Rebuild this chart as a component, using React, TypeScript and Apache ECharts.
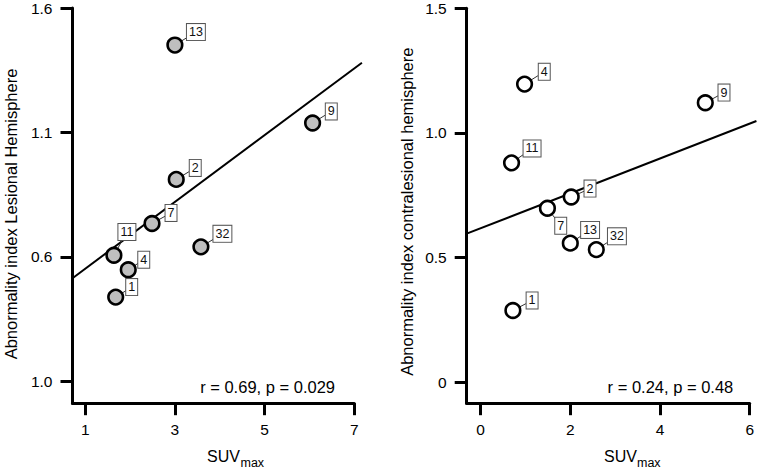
import React, { useEffect, useRef } from "react";
import * as echarts from "echarts";

// ---------- data ----------
const leftIds = ["13", "9", "2", "7", "32", "11", "4", "1"];
const leftSuv = [3.0, 6.07, 3.03, 2.49, 3.58, 1.64, 1.96, 1.68];
const leftAbn = [1.451, 1.138, 0.911, 0.734, 0.64, 0.606, 0.548, 0.438];
const leftFitX = [0.717, 7.17];
const leftFitY = [0.514, 1.38];
const leftXTicks = [1, 3, 5, 7];
const leftYTicks = [0.1, 0.6, 1.1, 1.6];
const leftYTickLabels = ["1.0", "0.6", "1.1", "1.6"];
const leftYName = "Abnormality index Lesional Hemisphere";
const leftStat = "r = 0.69, p = 0.029";

const rightIds = ["4", "9", "11", "2", "7", "13", "32", "1"];
const rightSuv = [0.98, 5.01, 0.69, 2.02, 1.49, 2.0, 2.58, 0.72];
const rightAbn = [1.196, 1.121, 0.88, 0.743, 0.698, 0.558, 0.532, 0.288];
const rightFitX = [-0.31, 6.15];
const rightFitY = [0.596, 1.048];
const rightXTicks = [0, 2, 4, 6];
const rightYTicks = [0, 0.5, 1.0, 1.5];
const rightYTickLabels = ["0", "0.5", "1.0", "1.5"];
const rightYName = "Abnormality index contralesional hemisphere";
const rightStat = "r = 0.24, p = 0.48";

const xNameMain = "SUV";
const xNameSub = "max";

// ---------- label box placement (px offsets from each point) ----------
const leftLabelDx = [21, 18.7, 19, 19, 21.5, 13, 15.5, 16];
const leftLabelDy = [-13, -11.5, -11.5, -10.5, -13, -23.3, -10, -10];
const rightLabelDx = [19.7, 18.7, 20.5, 18.8, 13.3, 19.8, 20.6, 19.2];
const rightLabelDy = [-12.3, -10.2, -14.4, -8.4, 17.5, -13.2, -13.3, -10];

const FONT = '"Liberation Sans", Arial, Helvetica, sans-serif';

function makeRenderItem(ids: string[], dxs: number[], dys: number[], fill: string) {
  return (params: any, api: any) => {
    const i = params.dataIndex;
    const p = api.coord([api.value(0), api.value(1)]);
    const r = 7.3;
    const dx = dxs[i];
    const dy = dys[i];
    const len = Math.sqrt(dx * dx + dy * dy);
    const ux = dx / len;
    const uy = dy / len;
    return {
      type: "group",
      children: [
        {
          type: "line",
          shape: { x1: p[0] + ux * r, y1: p[1] + uy * r, x2: p[0] + dx, y2: p[1] + dy },
          style: { stroke: "#333", lineWidth: 1 },
        },
        {
          type: "circle",
          shape: { cx: p[0], cy: p[1], r },
          style: { fill, stroke: "#000", lineWidth: 2.6 },
        },
        {
          type: "text",
          x: p[0] + dx,
          y: p[1] + dy,
          style: {
            text: ids[i],
            fontSize: 12.5,
            fontFamily: FONT,
            fill: "#111",
            align: "center",
            verticalAlign: "middle",
            backgroundColor: "#fff",
            borderColor: "#555",
            borderWidth: 1,
            padding: [2, 2, 1, 2],
          },
        },
      ],
    };
  };
}

function fitRenderItem(params: any, api: any) {
  const a = api.coord([api.value(0), api.value(1)]);
  const b = api.coord([api.value(2), api.value(3)]);
  return {
    type: "line",
    shape: { x1: a[0], y1: a[1], x2: b[0], y2: b[1] },
    style: { stroke: "#000", lineWidth: 2 },
  };
}

function axisX(gridIndex: number, min: number, max: number, ticks: number[]) {
  return {
    type: "value",
    gridIndex,
    min,
    max,
    axisLine: { show: true, onZero: false, lineStyle: { color: "#000", width: 3 } },
    axisTick: { show: true, length: 12, lineStyle: { color: "#000", width: 3 }, customValues: ticks },
    axisLabel: {
      customValues: ticks,
      margin: 18,
      fontSize: 15.5,
      color: "#000",
      fontFamily: FONT,
      formatter: (v: number) => String(v),
    },
    splitLine: { show: false },
  };
}

function axisY(gridIndex: number, min: number, max: number, ticks: number[], labels: string[]) {
  return {
    type: "value",
    gridIndex,
    min,
    max,
    axisLine: { show: true, onZero: false, lineStyle: { color: "#000", width: 3 } },
    axisTick: { show: true, length: 12, lineStyle: { color: "#000", width: 3 }, customValues: ticks },
    axisLabel: {
      customValues: ticks,
      margin: 20,
      fontSize: 15.5,
      color: "#000",
      fontFamily: FONT,
      formatter: (v: number) => {
        let best = 0;
        for (let k = 0; k < ticks.length; k++) {
          if (Math.abs(ticks[k] - v) < Math.abs(ticks[best] - v)) best = k;
        }
        return labels[best];
      },
    },
    splitLine: { show: false },
  };
}

export default function App() {
  const ref = useRef<HTMLDivElement>(null);

  useEffect(() => {
    if (!ref.current) return;
    const chart = echarts.init(ref.current, null, { renderer: "svg" });

    const leftPts = leftSuv.map((x, i) => [x, leftAbn[i]]);
    const rightPts = rightSuv.map((x, i) => [x, rightAbn[i]]);

    const textBase = { fontFamily: FONT, fill: "#000" };

    chart.setOption({
      animation: false,
      backgroundColor: "#fff",
      grid: [
        { left: 72.5, top: 8, right: 402.7, bottom: 66.8 },
        { left: 466.7, top: 8.3, right: 6.3, bottom: 66.8 },
      ],
      xAxis: [axisX(0, 0.717, 7, leftXTicks), axisX(1, -0.31, 6, rightXTicks)],
      yAxis: [
        axisY(0, 0.0115, 1.6, leftYTicks, leftYTickLabels),
        axisY(1, -0.084, 1.5, rightYTicks, rightYTickLabels),
      ],
      series: [
        {
          type: "custom",
          xAxisIndex: 0,
          yAxisIndex: 0,
          data: [[leftFitX[0], leftFitY[0], leftFitX[1], leftFitY[1]]],
          encode: { x: [0, 2], y: [1, 3] },
          clip: false,
          z: 1,
          renderItem: fitRenderItem,
        },
        {
          type: "custom",
          xAxisIndex: 1,
          yAxisIndex: 1,
          data: [[rightFitX[0], rightFitY[0], rightFitX[1], rightFitY[1]]],
          encode: { x: [0, 2], y: [1, 3] },
          clip: false,
          z: 1,
          renderItem: fitRenderItem,
        },
        {
          type: "custom",
          xAxisIndex: 0,
          yAxisIndex: 0,
          data: leftPts,
          clip: false,
          z: 3,
          renderItem: makeRenderItem(leftIds, leftLabelDx, leftLabelDy, "#bfbfbf"),
        },
        {
          type: "custom",
          xAxisIndex: 1,
          yAxisIndex: 1,
          data: rightPts,
          clip: false,
          z: 3,
          renderItem: makeRenderItem(rightIds, rightLabelDx, rightLabelDy, "#fff"),
        },
      ],
      graphic: [
        {
          type: "text",
          x: 10.5,
          y: 214,
          rotation: Math.PI / 2,
          style: { ...textBase, text: leftYName, fontSize: 16.5, align: "center", verticalAlign: "middle" },
        },
        {
          type: "text",
          x: 406.7,
          y: 211.7,
          rotation: Math.PI / 2,
          style: { ...textBase, text: rightYName, fontSize: 16.5, align: "center", verticalAlign: "middle" },
        },
        {
          type: "text",
          x: 335,
          y: 387,
          style: { ...textBase, text: leftStat, fontSize: 16.5, align: "right", verticalAlign: "middle" },
        },
        {
          type: "text",
          x: 733.3,
          y: 387,
          style: { ...textBase, text: rightStat, fontSize: 16.5, align: "right", verticalAlign: "middle" },
        },
        {
          type: "text",
          x: 207,
          y: 456,
          style: { ...textBase, text: xNameMain, fontSize: 16, align: "left", verticalAlign: "middle" },
        },
        {
          type: "text",
          x: 240.5,
          y: 463,
          style: { ...textBase, text: xNameSub, fontSize: 12.5, align: "left", verticalAlign: "middle" },
        },
        {
          type: "text",
          x: 604,
          y: 456,
          style: { ...textBase, text: xNameMain, fontSize: 16, align: "left", verticalAlign: "middle" },
        },
        {
          type: "text",
          x: 637,
          y: 463,
          style: { ...textBase, text: xNameSub, fontSize: 12.5, align: "left", verticalAlign: "middle" },
        },
      ],
    });

    return () => {
      chart.dispose();
    };
  }, []);

  return (
    <div
      ref={ref}
      style={{ position: "fixed", left: 0, top: 0, width: 757, height: 470, background: "#fff" }}
    />
  );
}
